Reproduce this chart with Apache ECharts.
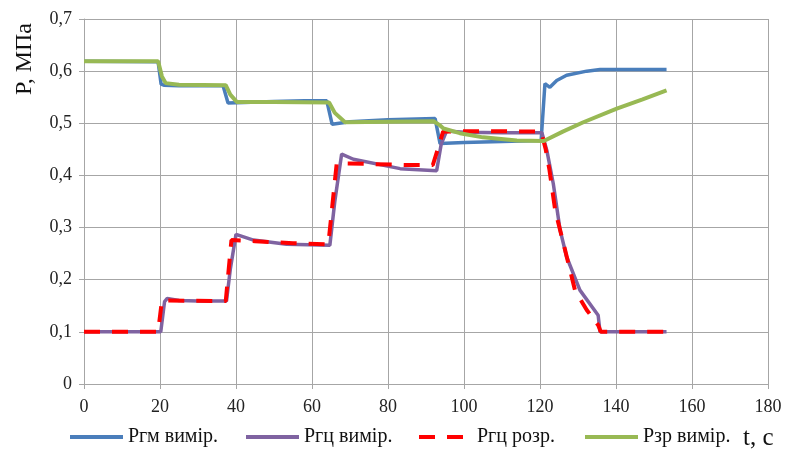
<!DOCTYPE html>
<html><head><meta charset="utf-8">
<script src="https://cdn.jsdelivr.net/npm/echarts@6/dist/echarts.min.js"></script>
<style>html,body{margin:0;padding:0;background:#fff}#c{width:785px;height:453px}</style>
</head><body><div id="c"></div>
<script>
const seriesNames = ['Pгм вимір.', 'Pгц вимір.', 'Pгц розр.', 'Pзр вимір.'];
const xTicks = [0, 20, 40, 60, 80, 100, 120, 140, 160, 180];

const tGm = [0, 19.5, 20.3, 21, 25, 30, 36.6, 37.9, 42, 50, 58, 63.9, 65.3, 70, 80, 92.4, 93.7, 100, 110, 120.3, 121.3, 122.6, 124.4, 127, 132.3, 135.8, 153.3];
const pGm = [0.619, 0.618, 0.575, 0.573, 0.572, 0.572, 0.572, 0.539, 0.540, 0.542, 0.543, 0.543, 0.498, 0.503, 0.507, 0.509, 0.461, 0.463, 0.465, 0.467, 0.576, 0.569, 0.582, 0.592, 0.600, 0.603, 0.603];

const tGcM = [0, 20.2, 21.2, 21.9, 25, 30, 37.5, 38.5, 40, 44.6, 53.3, 64.7, 66, 67.8, 70.9, 83.2, 92.8, 94, 95.4, 100, 110, 120.5, 121.8, 123.5, 125.3, 127, 130.5, 135.3, 135.8, 153.3];
const pGcM = [0.1, 0.1, 0.158, 0.164, 0.16, 0.159, 0.159, 0.22, 0.287, 0.276, 0.268, 0.266, 0.35, 0.441, 0.431, 0.413, 0.409, 0.46, 0.485, 0.483, 0.482, 0.482, 0.448, 0.384, 0.295, 0.244, 0.18, 0.132, 0.1, 0.1];

const tGcR = [0, 19.5, 20.5, 37.3, 38.8, 45, 55, 64.3, 66.5, 75, 85, 91.8, 93.5, 94.5, 105, 120.3, 121.5, 122.5, 124, 126.6, 129.2, 132.3, 135.3, 136, 153.3];
const pGcR = [0.1, 0.1, 0.16, 0.159, 0.276, 0.274, 0.27, 0.268, 0.423, 0.422, 0.42, 0.42, 0.46, 0.484, 0.485, 0.484, 0.45, 0.41, 0.333, 0.257, 0.18, 0.142, 0.113, 0.1, 0.1];

const tZr = [0, 19.5, 20.5, 21.5, 25, 37.3, 38.5, 40.2, 50, 64.5, 66, 68.7, 80, 92, 93.5, 94.6, 98.9, 105, 113.9, 121, 126, 131.4, 140.2, 147, 153.3];
const pZr = [0.619, 0.619, 0.59, 0.577, 0.574, 0.573, 0.555, 0.541, 0.541, 0.540, 0.52, 0.502, 0.503, 0.504, 0.497, 0.490, 0.481, 0.473, 0.467, 0.466, 0.484, 0.502, 0.528, 0.546, 0.563];

const zip = (t, p) => t.map((v, i) => [v, p[i]]);
const FONT = 'Liberation Serif';
const GRIDC = '#a6a6a6';

const chart = echarts.init(document.getElementById('c'));
const legendBase = {
  orient: 'horizontal', top: 427, padding: 0, itemWidth: 53, itemHeight: 14, itemGap: 0,
  itemStyle: { opacity: 0 },
  lineStyle: { width: 4 },
  textStyle: { fontFamily: FONT, fontSize: 20, color: '#111' }
};
chart.setOption({
  animation: false,
  backgroundColor: '#fff',
  grid: { left: 84, right: 17, top: 19, bottom: 69 },
  xAxis: {
    type: 'value', min: 0, max: 180, interval: 20,
    axisLine: { show: true, lineStyle: { color: GRIDC, width: 1 } },
    axisTick: { show: true, length: 5, lineStyle: { color: GRIDC } },
    splitLine: { show: true, lineStyle: { color: GRIDC, width: 1 } },
    axisLabel: { fontFamily: FONT, fontSize: 18, color: '#222', margin: 14,
      formatter: v => xTicks.includes(v) ? String(v) : '' }
  },
  yAxis: {
    type: 'value', min: 0, max: 0.7, interval: 0.1,
    axisLine: { show: true, lineStyle: { color: GRIDC, width: 1 } },
    axisTick: { show: true, length: 5, lineStyle: { color: GRIDC } },
    splitLine: { show: true, lineStyle: { color: GRIDC, width: 1 } },
    axisLabel: { fontFamily: FONT, fontSize: 18, color: '#222', margin: 12,
      formatter: v => v === 0 ? '0' : v.toFixed(1).replace('.', ',') }
  },
  legend: [
    Object.assign({}, legendBase, { left: 68, data: [seriesNames[0]] }),
    Object.assign({}, legendBase, { left: 244, data: [seriesNames[1]] }),
    Object.assign({}, legendBase, { left: 417, data: [seriesNames[2]] }),
    Object.assign({}, legendBase, { left: 583, data: [seriesNames[3]] })
  ],
  graphic: [
    { type: 'text', x: 25, y: 59, rotation: Math.PI / 2,
      style: { text: 'P, МПа', fontFamily: FONT, fontSize: 24, fill: '#111', align: 'center', verticalAlign: 'middle' } },
    { type: 'text', x: 743, y: 438,
      style: { text: 't, с', fontFamily: FONT, fontSize: 25, fill: '#111', align: 'left', verticalAlign: 'middle' } }
  ],
  series: [
    { name: seriesNames[0], type: 'line', symbol: 'none', data: zip(tGm, pGm),
      lineStyle: { color: '#4A7EBB', width: 3.5 }, itemStyle: { color: '#4A7EBB' } },
    { name: seriesNames[1], type: 'line', symbol: 'none', data: zip(tGcM, pGcM),
      lineStyle: { color: '#7F63A1', width: 3.5 }, itemStyle: { color: '#7F63A1' } },
    { name: seriesNames[2], type: 'line', symbol: 'none', data: zip(tGcR, pGcR),
      lineStyle: { color: '#FF0000', width: 4, type: [16, 12] }, itemStyle: { color: '#FF0000' } },
    { name: seriesNames[3], type: 'line', symbol: 'none', data: zip(tZr, pZr),
      lineStyle: { color: '#98B954', width: 4 }, itemStyle: { color: '#98B954' } }
  ]
});
</script></body></html>
